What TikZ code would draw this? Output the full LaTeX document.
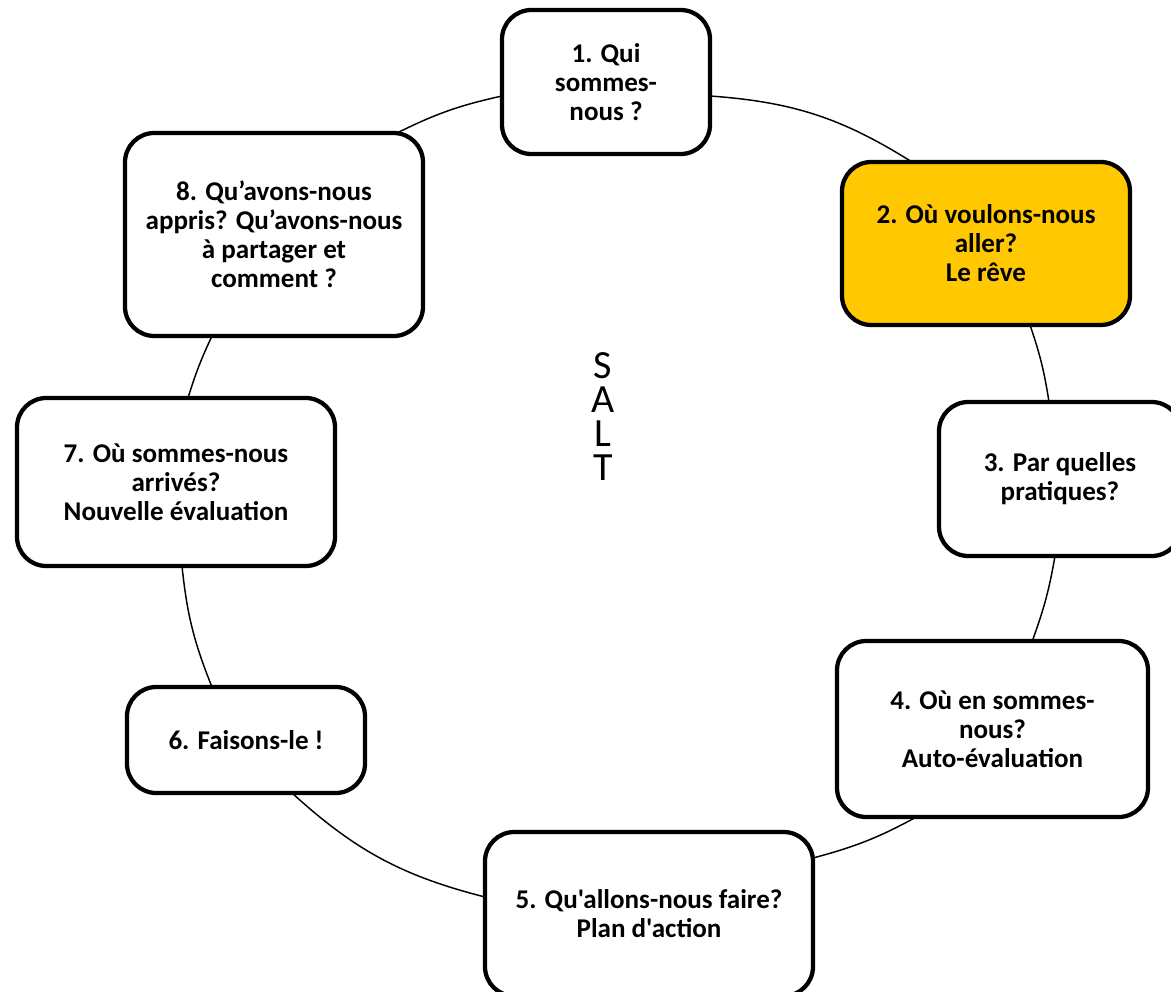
\documentclass[tikz,border=0pt]{standalone}
\usepackage{fontspec}
\newfontfamily\carl{Carlito}
\definecolor{gold}{HTML}{FFC800}
\begin{document}
\begin{tikzpicture}[x=0.75pt,y=-0.75pt,
  stepbox/.style={draw=black,line width=3.2pt,rounded corners=22pt,fill=white,
    align=center,inner sep=0pt,font=\carl\bfseries\fontsize{20.3}{21.75}\selectfont},
  ring/.style={line width=1.1pt,draw=black}]
\useasboundingbox (0,0) rectangle (1171,992);
% ring connector end points on the box borders
\coordinate (p8t) at (397,133);
\coordinate (p1l) at (502,96);
\coordinate (p1r) at (710,96);
\coordinate (p2t) at (912,162);
\coordinate (p2b) at (1030,325);
\coordinate (p3t) at (1049,402);
\coordinate (p3b) at (1055,556);
\coordinate (p4t) at (1033,639);
\coordinate (p4b) at (920,815);
\coordinate (p5r) at (813,858);
\coordinate (p5l) at (485,897);
\coordinate (p6b) at (292,793);
\coordinate (p6t) at (212,687);
\coordinate (p7b) at (182,566);
\coordinate (p7t) at (188,398);
\coordinate (p8b) at (212,336);
\draw[ring] (p8t) to[bend left=7] (p1l);
\draw[ring] (p1r) to[bend left=14] (p2t);
\draw[ring] (p2b) to[bend left=5] (p3t);
\draw[ring] (p3b) to[bend left=5] (p4t);
\draw[ring] (p4b) to[bend left=7] (p5r);
\draw[ring] (p5l) to[bend left=14] (p6b);
\draw[ring] (p6t) to[bend left=8] (p7b);
\draw[ring] (p7t) to[bend left=4] (p8b);
% boxes
\node[stepbox,minimum width=208*0.75pt,minimum height=144*0.75pt] (b1) at (606,82)
  {1. Qui\\sommes-\\nous ?};
\node[stepbox,fill=gold,minimum width=288*0.75pt,minimum height=163*0.75pt] (b2) at (986,243.5)
  {2. Où voulons-nous\\aller?\\Le rêve};
\node[stepbox,minimum width=242*0.75pt,minimum height=154*0.75pt] (b3) at (1060,479)
  {3. Par quelles\\pratiques?};
\node[stepbox,minimum width=311*0.75pt,minimum height=176*0.75pt] (b4) at (992.5,729)
  {4. Où en sommes-\\nous?\\Auto-évaluation};
\node[stepbox,minimum width=328*0.75pt,minimum height=164*0.75pt] (b5) at (649,914)
  {5. Qu'allons-nous faire?\\Plan d'action};
\node[stepbox,minimum width=238*0.75pt,minimum height=106*0.75pt] (b6) at (246,740)
  {6. Faisons-le !};
\node[stepbox,minimum width=318*0.75pt,minimum height=168*0.75pt] (b7) at (176,482)
  {7. Où sommes-nous\\arrivés?\\Nouvelle évaluation};
\node[stepbox,minimum width=298*0.75pt,minimum height=203*0.75pt] (b8) at (274,234.5)
  {8. Qu’avons-nous\\appris? Qu’avons-nous\\à partager et\\comment ?};
% centre label
\node[align=center,inner sep=0pt,font=\carl\fontsize{30}{25.5}\selectfont] (salt) at (603,417)
  {S\\A\\L\\T};
\end{tikzpicture}
\end{document}
